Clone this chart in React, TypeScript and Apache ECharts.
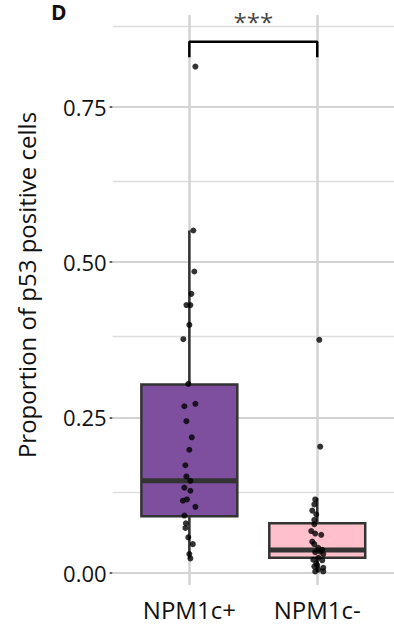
import React, { useEffect, useRef } from "react";
import * as echarts from "echarts";

// ---- data ----
const categories = ["NPM1c+", "NPM1c-"];
const categoryPos = [1, 2];
// [lower whisker, Q1, median, Q3, upper whisker]
const boxStats = [
  [0.023, 0.091, 0.148, 0.303, 0.551],
  [0.002, 0.024, 0.0366, 0.0795, 0.12],
];
const boxColors = ["#7D4F9E", "#FFC0CB"];
const boxWidth = 0.75;

// jittered points: [offset from category centre (category units), value]
const npmPosPoints = [
  [0.047, 0.815], [0.031, 0.551], [0.039, 0.485], [0.016, 0.449], [-0.023, 0.431],
  [0.008, 0.431], [0.0, 0.399], [-0.047, 0.376], [-0.008, 0.304], [-0.039, 0.268],
  [0.047, 0.272], [-0.023, 0.244], [0.019, 0.218], [0.0, 0.198], [-0.031, 0.173],
  [-0.023, 0.155], [0.008, 0.148], [-0.039, 0.137], [0.008, 0.132], [-0.05, 0.116],
  [-0.019, 0.118], [0.047, 0.106], [-0.039, 0.092], [-0.027, 0.0795], [-0.031, 0.072],
  [-0.008, 0.057], [0.027, 0.046], [0.0, 0.03], [0.008, 0.023],
];
const npmNegPoints = [
  [0.016, 0.375], [0.023, 0.203], [-0.016, 0.118], [-0.023, 0.11], [-0.039, 0.1],
  [-0.008, 0.094], [-0.023, 0.085], [-0.023, 0.078], [-0.047, 0.067], [-0.016, 0.063],
  [0.031, 0.061], [-0.039, 0.05], [-0.023, 0.046], [0.008, 0.04], [0.039, 0.037],
  [-0.016, 0.033], [0.023, 0.034], [0.047, 0.03], [0.008, 0.024], [-0.031, 0.021],
  [0.039, 0.02], [-0.008, 0.015], [-0.023, 0.01], [0.008, 0.005], [0.047, 0.008],
  [0.047, 0.002], [-0.016, 0.002], [0.0, 0.012],
];

const majorTicks = [0, 0.25, 0.5, 0.75];
const minorTicks = [0.125, 0.375, 0.625, 0.875];
const yMin = -0.0198;
const yMax = 0.898;

const bracketX = [1, 1, 2, 2];
const bracketY = [0.83, 0.855, 0.855, 0.83];
const significance = "***";

const FONT = "'Open Sans', 'Noto Sans', sans-serif";

export default function App() {
  const ref = useRef<HTMLDivElement>(null);
  useEffect(() => {
    if (!ref.current) return;
    const chart = echarts.init(ref.current, null, { renderer: "svg" });

    const points = [
      ...npmPosPoints.map((p) => [categoryPos[0] + p[0], p[1]]),
      ...npmNegPoints.map((p) => [categoryPos[1] + p[0], p[1]]),
    ];

    const option: any = {
      animation: false,
      backgroundColor: "#ffffff",
      grid: { left: 112.6, right: -2.6, top: 15, bottom: 41, containLabel: false },
      xAxis: {
        type: "value",
        min: 0.4,
        max: 2.6,
        axisLine: { show: false },
        axisTick: { show: false },
        splitLine: { show: false },
        axisLabel: {
          customValues: categoryPos,
          formatter: (v: number) => categories[Math.round(v) - 1] ?? "",
          fontSize: 24,
          fontFamily: FONT,
          color: "#111111",
          margin: 12,
        },
      },
      yAxis: {
        type: "value",
        min: yMin,
        max: yMax,
        axisLine: { show: false },
        splitLine: { show: false },
        axisTick: {
          show: true,
          customValues: majorTicks,
          length: 3,
          lineStyle: { color: "#333333", width: 1.5 },
        },
        axisLabel: {
          customValues: majorTicks,
          formatter: (v: number) => v.toFixed(2),
          fontSize: 22,
          fontFamily: FONT,
          color: "#111111",
          margin: 6,
        },
      },
      graphic: [
        {
          type: "text",
          x: 26,
          y: 285,
          rotation: Math.PI / 2,
          style: {
            text: "Proportion of p53 positive cells",
            font: `24px ${FONT}`,
            fill: "#111111",
            align: "center",
            verticalAlign: "middle",
          },
        },
        {
          type: "text",
          x: 51,
          y: 1,
          style: {
            text: "D",
            font: `bold 21px ${FONT}`,
            fill: "#111111",
            align: "left",
            verticalAlign: "top",
          },
        },
      ],
      series: [
        {
          type: "custom",
          z: 2,
          encode: { x: 0, y: [1, 2, 3, 4, 5] },
          data: boxStats.map((s, i) => [categoryPos[i], ...s]),
          renderItem: (params: any, api: any) => {
            const x = api.value(0);
            const lo = api.coord([x, api.value(1)]);
            const q1 = api.coord([x, api.value(2)]);
            const med = api.coord([x, api.value(3)]);
            const q3 = api.coord([x, api.value(4)]);
            const hi = api.coord([x, api.value(5)]);
            const halfW = api.size([boxWidth, 0])[0] / 2;
            const stroke = "#333333";
            return {
              type: "group",
              children: [
                {
                  type: "line",
                  shape: { x1: hi[0], y1: hi[1], x2: q3[0], y2: q3[1] },
                  style: { stroke, lineWidth: 2.5 },
                },
                {
                  type: "line",
                  shape: { x1: q1[0], y1: q1[1], x2: lo[0], y2: lo[1] },
                  style: { stroke, lineWidth: 2.5 },
                },
                {
                  type: "rect",
                  shape: { x: q3[0] - halfW, y: q3[1], width: 2 * halfW, height: q1[1] - q3[1] },
                  style: { fill: boxColors[params.dataIndex], stroke, lineWidth: 2.5 },
                },
                {
                  type: "line",
                  shape: { x1: med[0] - halfW, y1: med[1], x2: med[0] + halfW, y2: med[1] },
                  style: { stroke, lineWidth: 5 },
                },
              ],
            };
          },
          markLine: {
            silent: true,
            symbol: "none",
            z: 1,
            label: { show: false },
            emphasis: { disabled: true },
            data: [
              ...minorTicks.map((v) => ({ yAxis: v, lineStyle: { color: "#DEDEDE", width: 1.3, type: "solid" } })),
              ...majorTicks.map((v) => ({ yAxis: v, lineStyle: { color: "#D3D3D3", width: 2.2, type: "solid" } })),
              ...categoryPos.map((v) => ({ xAxis: v, lineStyle: { color: "#D3D3D3", width: 2.5, type: "solid" } })),
            ],
          },
        },
        {
          type: "scatter",
          z: 3,
          symbol: "circle",
          symbolSize: 6,
          itemStyle: { color: "#000000" },
          data: points,
        },
        {
          type: "line",
          z: 3,
          symbol: "none",
          lineStyle: { color: "#000000", width: 2.5 },
          data: bracketX.map((x, i) => [x, bracketY[i]]),
        },
        {
          type: "scatter",
          z: 3,
          symbolSize: 0,
          data: [[(bracketX[0] + bracketX[3]) / 2, bracketY[1]]],
          label: {
            show: true,
            position: "top",
            distance: 8,
            formatter: () => significance,
            fontSize: 24,
            fontFamily: FONT,
            color: "#111111",
          },
        },
      ],
    };
    chart.setOption(option);
    return () => chart.dispose();
  }, []);
  return (
    <div
      ref={ref}
      style={{ position: "fixed", left: 0, top: 0, width: 394, height: 626, background: "#fff" }}
    />
  );
}
